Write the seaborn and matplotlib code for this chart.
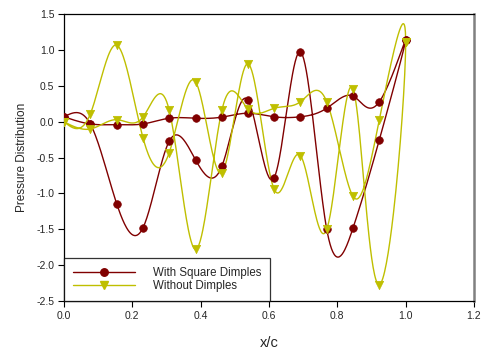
import numpy as np
import pandas as pd
import seaborn as sns
import matplotlib
matplotlib.use('Agg')
import matplotlib.pyplot as plt
from matplotlib.lines import Line2D

# ======================
# --- Data ---
# ======================
x_pos = [0.0, 0.077, 0.154, 0.231, 0.308, 0.385, 0.462, 0.538, 0.615, 0.692, 0.769, 0.846, 0.923, 1.0]

# with square dimples: two branches (out along one, back along the other)
dimp_a = [0.07, -0.03, -0.04, -0.03, 0.05, 0.05, 0.065, 0.12, 0.07, 0.07, 0.19, 0.36, 0.28, 1.14]
dimp_b = [0.07, -0.03, -1.14, -1.48, -0.27, -0.53, -0.62, 0.305, -0.78, 0.975, -1.50, -1.48, -0.25, 1.14]

# without dimples
plain_a = [0.0, -0.10, 0.03, 0.065, 0.16, -1.78, 0.16, 0.18, 0.19, 0.28, 0.28, -1.04, 0.03, 1.11]
plain_b = [0.0, 0.11, 1.07, -0.22, -0.43, 0.56, -0.71, 0.81, -0.94, -0.47, -1.50, 0.46, -2.27, 1.11]

labels = ['With Square Dimples', 'Without Dimples']
red = '#800000'
yel = '#bfbf00'


def natural_spline(vals, tt):
    # natural cubic spline on a uniform parameter (h = 1)
    y = np.asarray(vals, dtype=float)
    n = len(y)
    A = np.zeros((n, n))
    r = np.zeros(n)
    A[0, 0] = A[-1, -1] = 1
    for i in range(1, n - 1):
        A[i, i - 1], A[i, i], A[i, i + 1] = 1, 4, 1
        r[i] = 6 * (y[i + 1] - 2 * y[i] + y[i - 1])
    M = np.linalg.solve(A, r)
    i = np.clip(np.floor(tt).astype(int), 0, n - 2)
    s = tt - i
    return ((1 - s) * y[i] + s * y[i + 1]
            + ((1 - s) ** 3 - (1 - s)) * M[i] / 6 + (s ** 3 - s) * M[i + 1] / 6)


def loop_curve(xs, ya, yb, per=40):
    # path goes out along branch a and comes back along branch b
    px = list(xs) + list(xs[-2::-1])
    py = list(ya) + list(yb[-2::-1])
    tt = np.linspace(0, len(px) - 1, (len(px) - 1) * per + 1)
    return pd.DataFrame({'x': natural_spline(px, tt), 'y': natural_spline(py, tt)})


sns.set_style('ticks')
plt.rcParams['font.family'] = ['Liberation Sans', 'DejaVu Sans']

fig = plt.figure(figsize=(4.82, 3.54), dpi=100)
ax = fig.add_axes([0.1328, 0.1497, 0.8506, 0.8099])

for ya, yb, col, mk, ms in [(dimp_a, dimp_b, red, 'o', 30),
                            (plain_a, plain_b, yel, 'v', 36)]:
    curve = loop_curve(x_pos, ya, yb)
    sns.lineplot(data=curve, x='x', y='y', sort=False, estimator=None,
                 color=col, lw=1.0, ax=ax)
    pts = pd.DataFrame({'x': x_pos + x_pos, 'y': ya + yb})
    sns.scatterplot(data=pts, x='x', y='y', color=col, marker=mk, s=ms,
                    edgecolor=col, linewidth=0.5, ax=ax, zorder=3)

ax.set_xlim(0, 1.2)
ax.set_ylim(-2.5, 1.5)
ax.set_xticks(np.arange(0, 1.21, 0.2))
ax.set_yticks(np.arange(-2.5, 1.51, 0.5))
ax.set_xticklabels([f'{v:.1f}' for v in np.arange(0, 1.21, 0.2)])
ax.set_yticklabels([f'{v:.1f}' for v in np.arange(-2.5, 1.51, 0.5)])
ax.tick_params(labelsize=7.5, length=4, width=0.8, color='black', pad=3)
ax.set_xlabel('x/c', fontsize=10.5, labelpad=11)
ax.set_ylabel('Pressure Distribution', fontsize=8.5, labelpad=6)

for side in ['left', 'bottom', 'top']:
    ax.spines[side].set_visible(True)
    ax.spines[side].set_color('black')
    ax.spines[side].set_linewidth(0.9)
ax.spines['right'].set_visible(True)
ax.spines['right'].set_color('#808080')
ax.spines['right'].set_linewidth(1.8)

handles = [Line2D([], [], color=red, lw=1.0, marker='o', ms=5.4),
           Line2D([], [], color=yel, lw=1.0, marker='v', ms=6.0)]
leg = ax.legend(handles, labels, loc='lower left', fontsize=8.3,
                frameon=True, fancybox=False, edgecolor='black',
                borderaxespad=0, handlelength=5.4, handletextpad=1.6,
                borderpad=0.75, labelspacing=0.15)
leg.get_frame().set_linewidth(0.9)

fig.savefig('out.png', dpi=100)
